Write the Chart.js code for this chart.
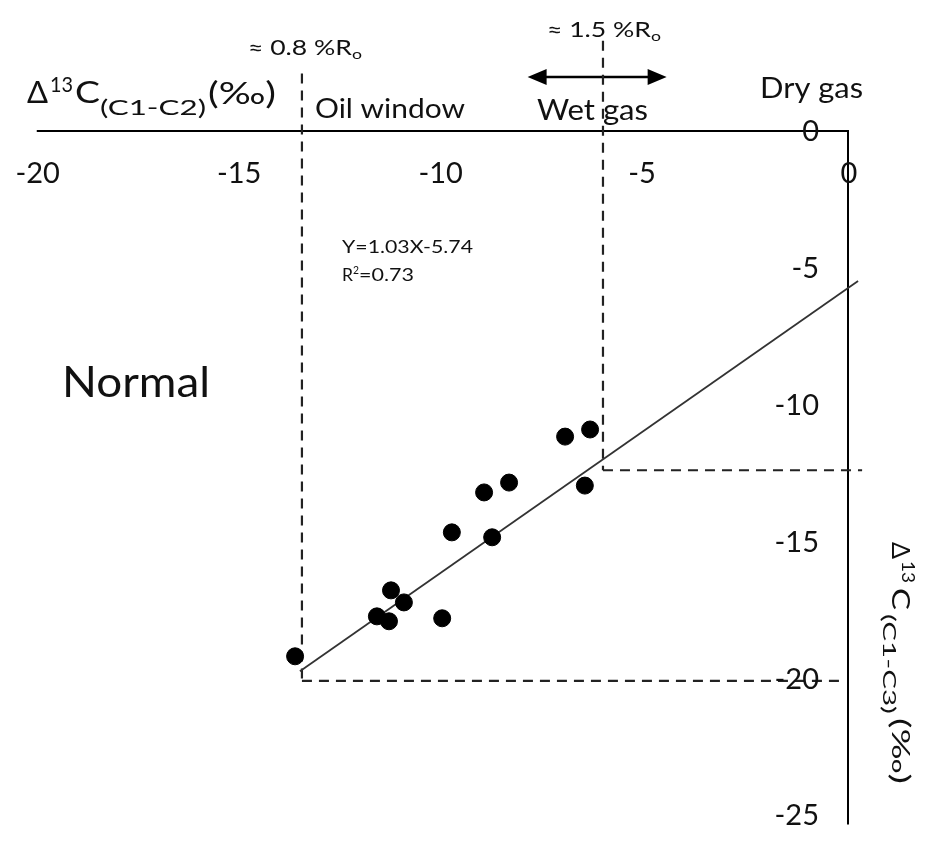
<!DOCTYPE html>
<html>
<head>
<meta charset="utf-8">
<script src="https://cdn.jsdelivr.net/npm/chart.js@4.4.1/dist/chart.umd.min.js"></script>
<style>
  html, body { margin: 0; padding: 0; background: #fff; }
  #wrap { width: 931px; height: 845px; }
</style>
</head>
<body>
<div id="wrap"><canvas id="isoChart" width="931" height="845"></canvas></div>
<script>
// Δ13C(C1-C2) against Δ13C(C1-C3), one entry per sample
const deltaC1C2 = [-13.72, -11.69, -11.39, -11.34, -11.02, -10.07, -9.83, -8.83, -9.03, -8.41, -7.02, -6.40, -6.53];
const deltaC1C3 = [-19.2, -17.74, -17.92, -16.79, -17.23, -17.81, -14.67, -14.85, -13.21, -12.85, -11.17, -10.91, -12.96];

const xTicks = [-20, -15, -10, -5, 0];
const yTicks = [0, -5, -10, -15, -20, -25];

// trend line Y = 1.03X - 5.74, drawn across this X span
const fitSlope = 1.03;
const fitIntercept = -5.74;
const fitSpan = [-13.6, 0.25];

// maturity cut-offs: ≈0.8 %Ro and ≈1.5 %Ro
const ro08 = [-13.55, -20.1];
const ro15 = [-6.08, -12.4];

const FONT = 'Lato, "Open Sans", sans-serif';

function font(size) { return size + 'px ' + FONT; }

// text squeezed or stretched to a given width (the humanist face runs wider than Lato)
function fitText(ctx, text, size, x, y, width) {
  ctx.font = font(size);
  const w = ctx.measureText(text).width;
  ctx.save();
  ctx.translate(x, y);
  ctx.scale(width / w, 1);
  ctx.fillText(text, 0, 0);
  ctx.restore();
}

// pieces of a label: [text, size, x, baseline, width]
function drawRuns(ctx, parts) {
  parts.forEach(p => fitText(ctx, p[0], p[1], p[2], p[3], p[4]));
}

const axesAndText = {
  id: 'axesAndText',
  beforeDatasetsDraw(chart) {
    const ctx = chart.ctx;
    const xs = chart.scales.x, ys = chart.scales.y;
    ctx.save();
    ctx.strokeStyle = '#000';
    ctx.lineWidth = 2;
    ctx.beginPath();
    ctx.moveTo(xs.getPixelForValue(-20.13), ys.getPixelForValue(0));
    ctx.lineTo(xs.getPixelForValue(0), ys.getPixelForValue(0));
    ctx.lineTo(xs.getPixelForValue(0), ys.getPixelForValue(-25.35));
    ctx.stroke();

    // double-headed arrow over the wet gas zone
    const ay = ys.getPixelForValue(1.97);
    const ax0 = xs.getPixelForValue(-7.95), ax1 = xs.getPixelForValue(-4.5);
    ctx.lineWidth = 2.5;
    ctx.beginPath();
    ctx.moveTo(ax0 + 10, ay);
    ctx.lineTo(ax1 - 10, ay);
    ctx.stroke();
    ctx.fillStyle = '#000';
    ctx.beginPath();
    ctx.moveTo(ax0, ay); ctx.lineTo(ax0 + 19, ay - 8); ctx.lineTo(ax0 + 19, ay + 8); ctx.closePath();
    ctx.moveTo(ax1, ay); ctx.lineTo(ax1 - 19, ay - 8); ctx.lineTo(ax1 - 19, ay + 8); ctx.closePath();
    ctx.fill();
    ctx.restore();
  },
  afterDraw(chart) {
    const ctx = chart.ctx;
    const xs = chart.scales.x, ys = chart.scales.y;
    ctx.save();
    ctx.fillStyle = '#111';
    ctx.textBaseline = 'middle';
    ctx.font = font(29);

    // x ticks sit under the top axis, the digits centred on the value
    const y0 = ys.getPixelForValue(0);
    xTicks.forEach(v => {
      const digits = String(Math.abs(v));
      const dw = ctx.measureText(digits).width;
      const lead = v < 0 ? ctx.measureText('-').width : 0;
      ctx.textAlign = 'left';
      ctx.fillText(String(v), xs.getPixelForValue(v) + 1 - dw / 2 - lead, y0 + 43);
    });
    // y ticks on the inner side of the right axis
    const x0 = xs.getPixelForValue(0);
    ctx.textAlign = 'right';
    yTicks.forEach(v => ctx.fillText(String(v), x0 - 29, ys.getPixelForValue(v) + 1));

    ctx.textAlign = 'left';
    ctx.textBaseline = 'alphabetic';

    // x axis title
    drawRuns(ctx, [
      ['Δ', 30, 27, 103, 21],
      ['13', 21, 50, 92, 23],
      ['C', 30, 75, 103, 25],
      ['(C1-C2)', 21, 100, 115, 106],
      ['(‰)', 30, 208, 104, 68]
    ]);

    // rotated y axis title, read top to bottom
    ctx.save();
    ctx.translate(892, 542);
    ctx.rotate(Math.PI / 2);
    drawRuns(ctx, [
      ['Δ', 25, 0, 0, 17],
      ['13', 18, 19, -10, 22],
      ['C', 25, 46, 0, 22],
      ['(C1-C3)', 18, 72, 9, 100],
      ['(‰)', 25, 176, 0, 66]
    ]);
    ctx.restore();

    drawRuns(ctx, [['≈ 0.8 %R', 22, 248, 55, 104], ['o', 13, 352, 59, 10]]);
    drawRuns(ctx, [['≈ 1.5 %R', 22, 547, 37, 104], ['o', 13, 651, 41, 10]]);

    fitText(ctx, 'Oil window', 27, 315, 118, 150);
    fitText(ctx, 'Wet gas', 29, 537, 120, 111);
    fitText(ctx, 'Dry gas', 29, 760, 98, 103);

    fitText(ctx, 'Normal', 42, 62, 397, 148);

    fitText(ctx, 'Y=1.03X-5.74', 18, 342, 253, 131);
    drawRuns(ctx, [['R', 18, 342, 281, 11], ['2', 11, 353, 274, 6], ['=0.73', 18, 359, 281, 55]]);
    ctx.restore();
  }
};

const samples = deltaC1C2.map((x, i) => ({ x: x, y: deltaC1C3[i] }));
const fitLine = fitSpan.map(x => ({ x: x, y: fitSlope * x + fitIntercept }));

function dashed(points) {
  return {
    type: 'line', data: points, showLine: true, pointRadius: 0,
    borderColor: '#222', borderWidth: 2.2, borderDash: [10, 7], clip: false
  };
}

new Chart(document.getElementById('isoChart'), {
  type: 'scatter',
  data: {
    datasets: [
      { data: samples, pointRadius: 8.5, pointHoverRadius: 8.5, backgroundColor: '#000', borderColor: '#000', clip: false },
      { type: 'line', data: fitLine, showLine: true, pointRadius: 0, borderColor: '#333', borderWidth: 1.8, clip: false },
      dashed([{ x: ro08[0], y: 2.1 }, { x: ro08[0], y: ro08[1] }]),
      dashed([{ x: ro08[0], y: ro08[1] }, { x: -0.2, y: ro08[1] }]),
      dashed([{ x: ro15[0], y: 3.3 }, { x: ro15[0], y: ro15[1] }]),
      dashed([{ x: ro15[0], y: ro15[1] }, { x: 0.35, y: ro15[1] }])
    ]
  },
  options: {
    responsive: false,
    animation: false,
    layout: { padding: { left: 42, right: 83, top: 131, bottom: 30 } },
    plugins: { legend: { display: false }, tooltip: { enabled: false } },
    scales: {
      x: { type: 'linear', min: -20, max: 0, display: false },
      y: { type: 'linear', min: -25, max: 0, display: false }
    }
  },
  plugins: [axesAndText]
});
</script>
</body>
</html>
